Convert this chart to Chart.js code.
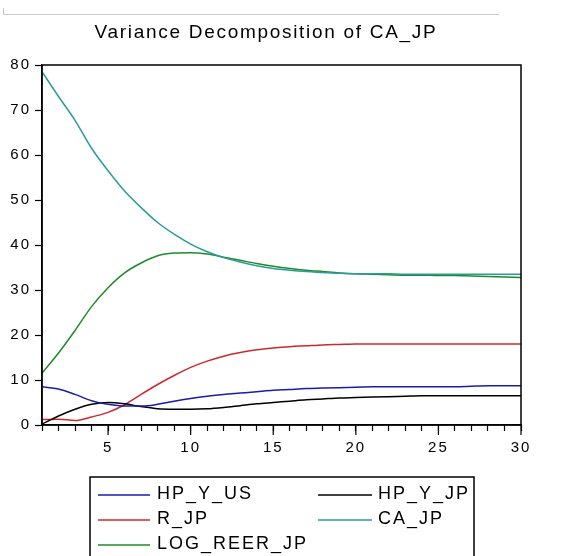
<!DOCTYPE html>
<html>
<head>
<meta charset="utf-8">
<script src="https://cdn.jsdelivr.net/npm/chart.js@4.4.1/dist/chart.umd.min.js"></script>
<style>
  body { margin: 0; background: #fff; }
  #wrap { position: relative; width: 561px; height: 556px; }
  #topline { position: absolute; left: 3px; top: 14px; width: 496px; height: 0; border-top: 1px solid #c8c8c8; }
  #topmark { position: absolute; left: 3px; top: 8px; width: 0; height: 6px; border-left: 1px solid #c8c8c8; }
</style>
</head>
<body>
<div id="wrap">
  <canvas id="vdChart" width="561" height="556"></canvas>
  <div id="topline"></div>
  <div id="topmark"></div>
</div>
<script>
// periodos 1..30
const periods = [1,2,3,4,5,6,7,8,9,10,11,12,13,14,15,16,17,18,19,20,21,22,23,24,25,26,27,28,29,30];
const yTicks = [0,10,20,30,40,50,60,70,80];
const xLabels = [5,10,15,20,25,30];

const hpYUs = [8.5,8.0,6.8,5.4,4.6,4.2,4.2,4.6,5.3,5.9,6.4,6.8,7.1,7.4,7.7,7.9,8.1,8.2,8.3,8.4,8.5,8.5,8.5,8.5,8.5,8.5,8.6,8.7,8.7,8.7];
const hpYJp = [0.2,2.0,3.5,4.6,5.0,4.7,4.1,3.6,3.5,3.5,3.6,3.9,4.3,4.7,5.0,5.3,5.6,5.8,6.0,6.1,6.2,6.3,6.4,6.5,6.5,6.5,6.5,6.5,6.5,6.5];
const rJp = [1.2,1.3,1.0,1.8,2.8,4.5,6.8,9.0,11.0,12.8,14.2,15.3,16.1,16.7,17.1,17.4,17.6,17.8,17.9,18.0,18.0,18.0,18.0,18.0,18.0,18.0,18.0,18.0,18.0,18.0];
const caJp = [78.5,73.0,67.7,61.5,56.5,52.0,48.3,45.0,42.4,40.2,38.5,37.2,36.2,35.4,34.8,34.4,34.1,33.9,33.7,33.6,33.6,33.6,33.5,33.5,33.5,33.5,33.5,33.5,33.5,33.5];
const logReerJp = [11.5,16.0,21.0,26.3,30.5,33.8,36.0,37.6,38.2,38.3,38.0,37.3,36.6,35.9,35.3,34.8,34.4,34.1,33.8,33.6,33.5,33.4,33.3,33.3,33.2,33.2,33.1,33.0,32.9,32.8];

const seriesNames = ['HP_Y_US', 'HP_Y_JP', 'R_JP', 'CA_JP', 'LOG_REER_JP'];
const seriesValues = [hpYUs, hpYJp, rJp, caJp, logReerJp];
const seriesColors = ['#1c1ca8', '#000000', '#cc2a2a', '#2a9c9c', '#1f8a2a'];

const FONT = "'Liberation Sans', Arial, sans-serif";

const datasets = seriesNames.map((name, i) => ({
    label: name,
    data: periods.map((p, k) => ({ x: p, y: seriesValues[i][k] })),
    borderColor: seriesColors[i],
    borderWidth: 1.5,
    pointRadius: 0,
    fill: false,
    cubicInterpolationMode: 'monotone'
}));

// marco, titulo, ticks largos y leyenda
const framePlugin = {
    id: 'frame',
    beforeDraw(chart) {
        chart.ctx.letterSpacing = '2px';
    },
    afterDraw(chart) {
        const ctx = chart.ctx;
        const a = chart.chartArea;
        const xs = chart.scales.x;
        ctx.save();
        ctx.strokeStyle = '#000';
        ctx.lineWidth = 1.5;
        ctx.strokeRect(a.left, a.top, a.right - a.left, a.bottom - a.top);

        // ticks mayores
        ctx.lineWidth = 1.2;
        xLabels.forEach(v => {
            const px = xs.getPixelForValue(v);
            ctx.beginPath();
            ctx.moveTo(px, a.bottom);
            ctx.lineTo(px, a.bottom + 10);
            ctx.stroke();
        });

        // titulo
        ctx.letterSpacing = '1.7px';
        ctx.fillStyle = '#000';
        ctx.font = '19px ' + FONT;
        ctx.textAlign = 'center';
        ctx.textBaseline = 'middle';
        ctx.fillText('Variance Decomposition of CA_JP', 266, 33);

        // leyenda
        ctx.lineWidth = 1.5;
        ctx.strokeStyle = '#000';
        ctx.strokeRect(90, 477, 384, 90);
        const cols = [[98, 150, 157], [318, 372, 378]];
        const rows = [495, 520, 545];
        ctx.letterSpacing = '2px';
        ctx.textAlign = 'left';
        ctx.font = '18px ' + FONT;
        seriesNames.forEach((name, i) => {
            const c = cols[i % 2];
            const y = rows[Math.floor(i / 2)];
            ctx.strokeStyle = seriesColors[i];
            ctx.lineWidth = 1.5;
            ctx.beginPath();
            ctx.moveTo(c[0], y);
            ctx.lineTo(c[1], y);
            ctx.stroke();
            ctx.fillStyle = '#000';
            ctx.fillText(name, c[2], y - 1);
        });
        ctx.restore();
        ctx.letterSpacing = '0px';
    }
};

const ctx = document.getElementById('vdChart').getContext('2d');
const vdChart = new Chart(ctx, {
    type: 'line',
    data: { datasets: datasets },
    options: {
        responsive: false,
        animation: false,
        layout: { padding: { top: 65, right: 40, left: 0, bottom: 0 } },
        plugins: {
            legend: { display: false },
            title: { display: false },
            tooltip: { enabled: false }
        },
        scales: {
            x: {
                type: 'linear',
                min: 1,
                max: 30,
                afterFit(scale) { scale.height = 131; },
                afterBuildTicks(scale) { scale.ticks = periods.map(v => ({ value: v })); },
                ticks: {
                    autoSkip: false,
                    maxRotation: 0,
                    padding: 8,
                    color: '#000',
                    font: { family: FONT, size: 15 },
                    callback: v => (xLabels.includes(v) ? String(v) : '')
                },
                grid: { drawOnChartArea: false, tickLength: 6, color: '#000', tickWidth: 1.2 },
                border: { display: true, color: '#000', width: 1.5 }
            },
            y: {
                min: 0,
                max: 80,
                afterFit(scale) { scale.width = 42; },
                afterBuildTicks(scale) { scale.ticks = yTicks.map(v => ({ value: v })); },
                ticks: {
                    padding: 4,
                    color: '#000',
                    font: { family: FONT, size: 15 }
                },
                grid: { drawOnChartArea: false, tickLength: 7, color: '#000', tickWidth: 1.2 },
                border: { display: true, color: '#000', width: 1.5 }
            }
        }
    },
    plugins: [framePlugin]
});
</script>
</body>
</html>
